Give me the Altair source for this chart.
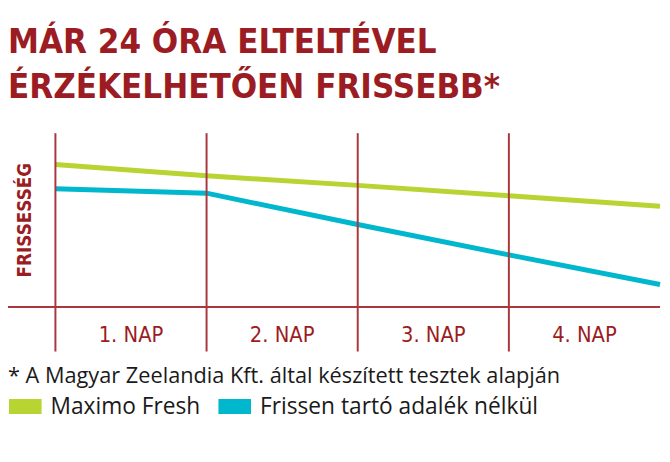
import altair as alt
import pandas as pd

# ---- data ----
days = [0, 1, 2, 3, 4]
maximo_fresh = [82, 75.5, 70, 64, 58]
frissen_nelkul = [68, 65.5, 47.5, 30, 13]
series_names = ["Maximo Fresh", "Frissen tartó adalék nélkül"]
series_colors = ["#B7D433", "#00B7CD"]
day_labels = ["1. NAP", "2. NAP", "3. NAP", "4. NAP"]
grid_days = [0, 1, 2, 3]
title_lines = ["MÁR 24 ÓRA ELTELTÉVEL", "ÉRZÉKELHETŐEN FRISSEBB*"]
y_title = "FRISSESSÉG"
footnote = "* A Magyar Zeelandia Kft. által készített tesztek alapján"

RED = "#9B1C22"
GRID = "#A8383E"
HAND = "DejaVu Sans Condensed, sans-serif"
BODY = "Open Sans, sans-serif"
# legend swatch: a block of thin horizontal strokes that reads as a filled rectangle
SWATCH = "".join(f"M-1,{v / 10:.1f}L1,{v / 10:.1f}" for v in range(-4, 5))

X_MIN, X_MAX = -0.3137, 4.0131
Y_MIN, Y_MAX = -25.57, 100

lines_df = pd.DataFrame({
    "day": days * 2,
    "value": maximo_fresh + frissen_nelkul,
    "series": [series_names[0]] * len(days) + [series_names[1]] * len(days),
})
labels_df = pd.DataFrame({"pos": [i + 0.5 for i in range(len(day_labels))], "label": day_labels})
grid_df = pd.DataFrame({"day": grid_days, "top": Y_MAX, "bottom": Y_MIN})
base_df = pd.DataFrame({"x1": [X_MIN], "x2": [days[-1]], "y": [0]})
ytitle_df = pd.DataFrame({"t": [y_title]})

xs = alt.Scale(domain=[X_MIN, X_MAX], nice=False, zero=False)
ys = alt.Scale(domain=[Y_MIN, Y_MAX], nice=False, zero=False)
cs = alt.Scale(domain=series_names, range=series_colors)

lines = alt.Chart(lines_df).mark_line(strokeWidth=5, strokeCap="butt").encode(
    x=alt.X("day:Q", scale=xs, axis=None),
    y=alt.Y("value:Q", scale=ys, axis=None),
    color=alt.Color(
        "series:N", scale=cs, sort=series_names,
        legend=alt.Legend(
            title=footnote,
            orient="none", legendX=0, legendY=236,
            direction="horizontal",
            titleFont=BODY, titleFontSize=22, titleFontWeight="normal",
            titleColor="#1a1a1a", titleLimit=700, titlePadding=1,
            labelFont=BODY, labelFontSize=23, labelColor="#1a1a1a", labelLimit=500,
            labelOffset=8, columnPadding=14,
            symbolType=SWATCH, symbolSize=1089, symbolStrokeWidth=2,
            padding=0,
        ),
    ),
)

vrules = alt.Chart(grid_df).mark_rule(color=GRID, strokeWidth=2).encode(
    x=alt.X("day:Q", scale=xs, axis=None),
    y=alt.Y("top:Q", scale=ys, axis=None),
    y2="bottom:Q",
)

hrule = alt.Chart(base_df).mark_rule(color=GRID, strokeWidth=2).encode(
    x=alt.X("x1:Q", scale=xs, axis=None),
    x2="x2:Q",
    y=alt.Y("y:Q", scale=ys, axis=None),
)

xlabels = alt.Chart(labels_df).mark_text(
    font=HAND, fontSize=22, color=RED, align="center", baseline="alphabetic"
).encode(
    x=alt.X("pos:Q", scale=xs, axis=None),
    y=alt.value(211),
    text="label:N",
)

ytitle = alt.Chart(ytitle_df).mark_text(
    font=HAND, fontSize=19, fontWeight="bold", color=RED, angle=270,
    align="center", baseline="middle"
).encode(
    x=alt.value(17), y=alt.value(88), text="t:N",
)

chart = alt.layer(lines, vrules, hrule, xlabels, ytitle).properties(
    width=662, height=221,
    background="white",
    autosize=alt.AutoSizeParams(type="none"),
    padding={"left": 0, "top": 124, "right": 0, "bottom": 100},
    title=alt.TitleParams(
        title_lines, anchor="start", frame="group", orient="top",
        font=HAND, fontSize=35, fontWeight="bold", color=RED,
        lineHeight=45, baseline="bottom", offset=-7,
    ),
).configure_view(stroke=None)

chart.save("out.html", embed_options={"renderer": "svg", "actions": False})
